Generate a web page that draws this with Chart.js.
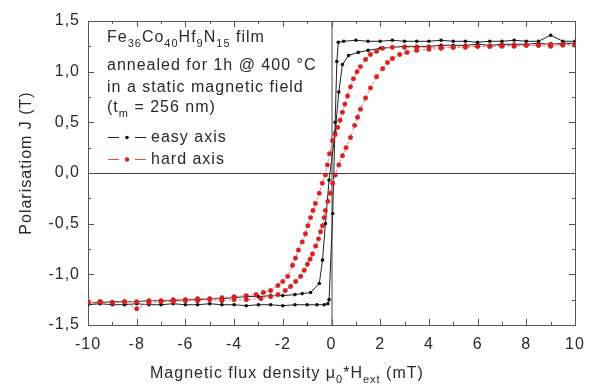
<!DOCTYPE html>
<html>
<head>
<meta charset="utf-8">
<script src="https://cdn.jsdelivr.net/npm/chart.js@4.4.1/dist/chart.umd.min.js"></script>
<style>
  html, body { margin: 0; padding: 0; background: #fff; }
  #wrap { width: 597px; height: 385px; }
</style>
</head>
<body>
<div id="wrap"><canvas id="loopChart"></canvas></div>
<script>
// easy axis, rising branch (square loop)
const easyUpH = [-10, -9.5, -9, -8.5, -8, -7.5, -7, -6.5, -6, -5.5, -5, -4.5, -4, -3.5, -3, -2.5, -2, -1.5, -1, -0.6, -0.3, -0.15, -0.1, 0.05, 0.15, 0.22, 0.28, 0.5, 1, 1.5, 2, 2.5, 3, 3.5, 4, 4.5, 5, 5.5, 6, 6.5, 7, 7.5, 8, 8.5, 9, 9.5, 10];
const easyUpJ = [-1.30, -1.29, -1.30, -1.30, -1.29, -1.30, -1.30, -1.29, -1.30, -1.30, -1.29, -1.30, -1.30, -1.31, -1.30, -1.30, -1.31, -1.30, -1.30, -1.30, -1.30, -1.29, -1.25, -0.40, 0.50, 1.10, 1.29, 1.30, 1.31, 1.30, 1.30, 1.31, 1.30, 1.30, 1.30, 1.31, 1.30, 1.30, 1.29, 1.30, 1.30, 1.31, 1.30, 1.30, 1.36, 1.30, 1.30];
// easy axis, falling branch (rounded)
const easyDownH = [10, 9.5, 9, 8.5, 8, 7.5, 7, 6.5, 6, 5.5, 5, 4.5, 4, 3.5, 3, 2.5, 2, 1.5, 1.1, 0.7, 0.45, 0.3, 0.15, -0.1, -0.25, -0.37, -0.5, -0.86, -1.2, -1.5, -2, -2.5, -3, -3.5, -4, -4.5, -5, -5.5, -6, -6.5, -7, -7.5, -8, -8.5, -9, -9.5, -10];
const easyDownJ = [1.28, 1.28, 1.27, 1.28, 1.27, 1.27, 1.27, 1.26, 1.27, 1.26, 1.26, 1.26, 1.25, 1.25, 1.25, 1.24, 1.23, 1.21, 1.19, 1.16, 1.07, 0.80, 0.40, -0.07, -0.50, -0.86, -1.09, -1.18, -1.19, -1.20, -1.21, -1.21, -1.22, -1.22, -1.23, -1.24, -1.24, -1.25, -1.25, -1.26, -1.26, -1.26, -1.27, -1.27, -1.27, -1.28, -1.28];
// hard axis, falling branch
const hardDownH = [10, 9.5, 9, 8.5, 8, 7.5, 7, 6.5, 6, 5.5, 5, 4.5, 4, 3.5, 3, 2.5, 2.1, 1.85, 1.6, 1.4, 1.19, 1.05, 0.9, 0.78, 0.66, 0.55, 0.45, 0.35, 0.25, 0.15, 0.04, -0.08, -0.17, -0.25, -0.38, -0.5, -0.66, -0.76, -0.86, -0.97, -1.07, -1.2, -1.36, -1.48, -1.6, -1.8, -2, -2.2, -2.5, -2.8, -3.1, -3.5, -4, -4.5, -5, -5.5, -6, -6.5, -7, -7.5, -8, -8.5, -9, -9.5, -10];
const hardDownJ = [1.26, 1.27, 1.25, 1.26, 1.26, 1.25, 1.26, 1.25, 1.25, 1.25, 1.24, 1.24, 1.24, 1.24, 1.24, 1.24, 1.23, 1.20, 1.17, 1.12, 1.05, 1.00, 0.93, 0.85, 0.76, 0.68, 0.60, 0.52, 0.45, 0.38, 0.32, 0.19, 0.08, -0.02, -0.10, -0.20, -0.30, -0.37, -0.44, -0.52, -0.60, -0.68, -0.76, -0.84, -0.91, -1.02, -1.07, -1.11, -1.16, -1.18, -1.20, -1.21, -1.22, -1.23, -1.24, -1.24, -1.25, -1.25, -1.26, -1.26, -1.27, -1.27, -1.28, -1.27, -1.28];
// hard axis, rising branch
const hardUpH = [-10, -9.5, -9, -8.5, -8, -7.5, -7, -6.5, -6, -5.5, -5, -4.5, -4, -3.5, -2.9, -2.5, -2.2, -1.9, -1.68, -1.47, -1.27, -1.12, -0.99, -0.88, -0.78, -0.65, -0.53, -0.45, -0.37, -0.3, -0.25, -0.15, -0.05, 0.05, 0.15, 0.3, 0.45, 0.6, 0.78, 0.95, 1.07, 1.19, 1.4, 1.6, 1.85, 2.1, 2.3, 2.5, 2.8, 3.1, 3.5, 4, 4.5, 5, 5.5, 6, 6.5, 7, 7.5, 8, 8.5, 9, 9.5, 10];
const hardUpJ = [-1.28, -1.27, -1.28, -1.27, -1.34, -1.28, -1.27, -1.27, -1.26, -1.26, -1.25, -1.26, -1.25, -1.25, -1.24, -1.22, -1.20, -1.16, -1.12, -1.07, -1.02, -0.96, -0.90, -0.85, -0.80, -0.72, -0.65, -0.58, -0.52, -0.44, -0.37, -0.28, -0.20, -0.10, -0.02, 0.08, 0.17, 0.25, 0.35, 0.47, 0.55, 0.63, 0.74, 0.84, 0.95, 1.03, 1.09, 1.13, 1.17, 1.19, 1.21, 1.22, 1.23, 1.24, 1.24, 1.25, 1.25, 1.25, 1.26, 1.26, 1.26, 1.27, 1.26, 1.27];

const xTickLabels = ['-10', '-8', '-6', '-4', '-2', '0', '2', '4', '6', '8', '10'];
const yTickLabels = ['-1,5', '-1,0', '-0,5', '0,0', '0,5', '1,0', '1,5'];

const FONT = 'Liberation Sans, Arial, sans-serif';
const TXT = '#2a2a2a';

function pts(h, j) { return h.map((v, i) => ({ x: v, y: j[i] })); }

// frame, inward ticks on all four sides, zero lines
const framePlugin = {
    id: 'frame',
    beforeDraw(chart) {
        chart.ctx.letterSpacing = '1px';
    },
    beforeDatasetsDraw(chart) {
        const { ctx, chartArea: a, scales: { x, y } } = chart;
        ctx.save();
        ctx.lineWidth = 1;
        ctx.strokeStyle = '#444';
        ctx.beginPath();
        ctx.moveTo(a.left, y.getPixelForValue(0) + 0.5);
        ctx.lineTo(a.right, y.getPixelForValue(0) + 0.5);
        ctx.moveTo(x.getPixelForValue(0) + 0.5, a.top);
        ctx.lineTo(x.getPixelForValue(0) + 0.5, a.bottom);
        ctx.stroke();
        ctx.strokeStyle = '#555';
        ctx.strokeRect(a.left + 0.5, a.top + 0.5, a.right - a.left, a.bottom - a.top);
        ctx.beginPath();
        for (let v = -10; v <= 10; v++) {
            const px = Math.round(x.getPixelForValue(v)) + 0.5;
            const len = v % 2 === 0 ? 6 : 3;
            ctx.moveTo(px, a.bottom); ctx.lineTo(px, a.bottom - len);
            ctx.moveTo(px, a.top); ctx.lineTo(px, a.top + len);
        }
        for (let k = -6; k <= 6; k++) {
            const py = Math.round(y.getPixelForValue(k * 0.25)) + 0.5;
            const len = k % 2 === 0 ? 6 : 3;
            ctx.moveTo(a.left, py); ctx.lineTo(a.left + len, py);
            ctx.moveTo(a.right, py); ctx.lineTo(a.right - len, py);
        }
        ctx.stroke();
        ctx.restore();
    },
    afterDraw(chart) {
        const ctx = chart.ctx;
        ctx.save();
        ctx.fillStyle = TXT;
        ctx.letterSpacing = '1px';
        ctx.textBaseline = 'alphabetic';
        const big = '16px ' + FONT, small = '11px ' + FONT;
        // text with subscripts: parts of [text, isSub]
        function rich(parts, x0, y0) {
            let cx = x0;
            parts.forEach(([t, sub]) => {
                ctx.font = sub ? small : big;
                ctx.fillText(t, cx, sub ? y0 + 5 : y0);
                cx += ctx.measureText(t).width;
            });
        }
        rich([['Fe', 0], ['36', 1], ['Co', 0], ['40', 1], ['Hf', 0], ['9', 1], ['N', 0], ['15', 1], [' film', 0]], 107, 42);
        rich([['annealed for 1h @ 400 °C', 0]], 107, 70);
        rich([['in a static magnetic field', 0]], 107, 92);
        rich([['(t', 0], ['m', 1], [' = 256 nm)', 0]], 107, 112);
        rich([['easy axis', 0]], 151, 142);
        rich([['hard axis', 0]], 151, 164);
        // legend samples
        ctx.lineWidth = 1.2;
        ctx.strokeStyle = '#222';
        ctx.beginPath();
        ctx.moveTo(108, 137.5); ctx.lineTo(119, 137.5);
        ctx.moveTo(135, 137.5); ctx.lineTo(146, 137.5);
        ctx.stroke();
        ctx.fillStyle = '#111';
        ctx.beginPath(); ctx.arc(127, 137.5, 1.8, 0, Math.PI * 2); ctx.fill();
        ctx.strokeStyle = '#e8503f';
        ctx.beginPath();
        ctx.moveTo(108, 159.5); ctx.lineTo(119, 159.5);
        ctx.moveTo(135, 159.5); ctx.lineTo(146, 159.5);
        ctx.stroke();
        ctx.fillStyle = '#dd1f1f';
        ctx.beginPath(); ctx.arc(127, 159.5, 2.2, 0, Math.PI * 2); ctx.fill();
        // axis titles
        ctx.fillStyle = TXT;
        rich([['Magnetic flux density \u03bc', 0], ['0', 1], ['*H', 0], ['ext', 1], [' (mT)', 0]], 150, 378);
        ctx.translate(31, 163);
        ctx.rotate(-Math.PI / 2);
        ctx.font = big;
        ctx.textAlign = 'center';
        ctx.fillText('Polarisatiom J (T)', 0, 0);
        ctx.restore();
    }
};

const ctx = document.getElementById('loopChart').getContext('2d');
const loopChart = new Chart(ctx, {
    type: 'scatter',
    data: {
        datasets: [{
            label: 'hard axis',
            data: pts(hardDownH, hardDownJ).concat(pts(hardUpH, hardUpJ)),
            showLine: true,
            borderColor: '#f07a6e',
            borderWidth: 1,
            borderDash: [3, 2],
            backgroundColor: '#dd1f1f',
            pointBorderColor: '#c41818',
            pointBorderWidth: 0.5,
            pointRadius: 2.2
        }, {
            label: 'easy axis',
            data: pts(easyUpH, easyUpJ).concat(pts(easyDownH, easyDownJ)),
            showLine: true,
            borderColor: '#222',
            borderWidth: 1,
            backgroundColor: '#111',
            pointBorderWidth: 0,
            pointRadius: 1.8
        }]
    },
    options: {
        responsive: true,
        maintainAspectRatio: false,
        animation: false,
        layout: { padding: { left: 0, right: 22, top: 21, bottom: 0 } },
        plugins: {
            legend: { display: false },
            tooltip: { enabled: false }
        },
        scales: {
            x: {
                type: 'linear',
                min: -10,
                max: 10,
                grid: { display: false, drawTicks: false },
                border: { display: false },
                ticks: {
                    stepSize: 2,
                    padding: 10,
                    color: TXT,
                    font: { family: FONT, size: 16 },
                    maxRotation: 0,
                    callback: (v) => xTickLabels[Math.round((v + 10) / 2)]
                },
                afterFit: (s) => { s.height = 60; }
            },
            y: {
                min: -1.5,
                max: 1.5,
                grid: { display: false, drawTicks: false },
                border: { display: false },
                ticks: {
                    stepSize: 0.5,
                    padding: 8,
                    color: TXT,
                    font: { family: FONT, size: 16 },
                    callback: (v) => yTickLabels[Math.round((v + 1.5) * 2)]
                },
                afterFit: (s) => { s.width = 88; }
            }
        }
    },
    plugins: [framePlugin]
});
</script>
</body>
</html>
